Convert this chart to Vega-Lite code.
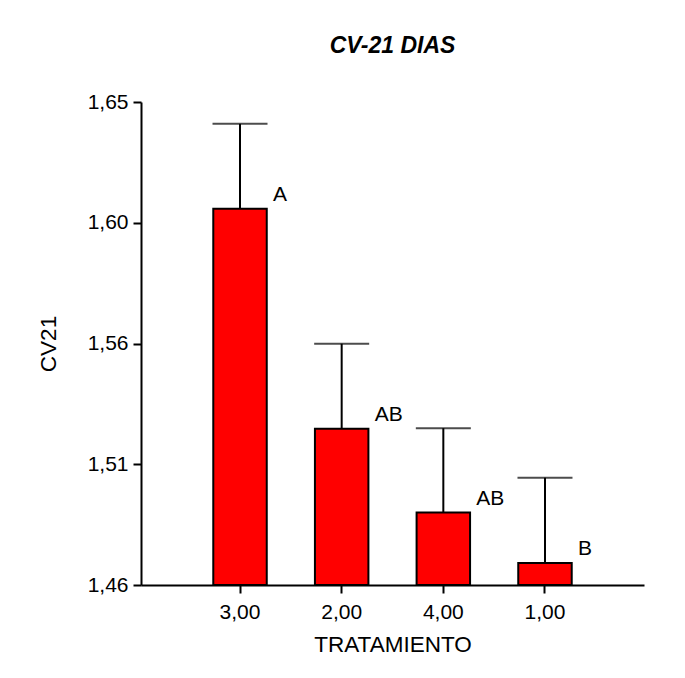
{
  "$schema": "https://vega.github.io/schema/vega-lite/v6.json",
  "autosize": "none",
  "width": 503,
  "height": 483,
  "padding": {"left": 141, "top": 102, "right": 41, "bottom": 93},
  "background": "white",
  "title": {"text": "CV-21 DIAS", "font": "Liberation Sans", "fontSize": 23, "fontWeight": "bold", "fontStyle": "italic", "color": "black", "offset": 33, "anchor": "middle"},
  "data": {"values": [
    {"TRATAMIENTO": "3,00", "CV21": 1.608, "upper": 1.6414, "letra": "A"},
    {"TRATAMIENTO": "2,00", "CV21": 1.5215, "upper": 1.5549, "letra": "AB"},
    {"TRATAMIENTO": "4,00", "CV21": 1.4885, "upper": 1.5217, "letra": "AB"},
    {"TRATAMIENTO": "1,00", "CV21": 1.4687, "upper": 1.5022, "letra": "B"}
  ]},
  "encoding": {
    "x": {
      "field": "TRATAMIENTO", "type": "nominal", "sort": null,
      "scale": {"paddingInner": 0.474, "paddingOuter": 0.711},
      "axis": {"title": "TRATAMIENTO", "labelAngle": 0, "labelPadding": 8, "titlePadding": 11}
    }
  },
  "layer": [
    {
      "mark": {"type": "bar", "fill": "#ff0000", "stroke": "black", "strokeWidth": 2},
      "encoding": {
        "y": {
          "field": "CV21", "type": "quantitative",
          "scale": {"domain": [1.46, 1.65], "zero": false, "nice": false},
          "axis": {"title": "CV21", "values": [1.46, 1.5075, 1.555, 1.6025, 1.65], "labelExpr": "replace(format(datum.value + 0.000001, '.2f'), '.', ',')", "labelPadding": 5, "titlePadding": 27}
        },
        "y2": {"datum": 1.46}
      }
    },
    {
      "mark": {"type": "rule", "color": "black", "strokeWidth": 2},
      "encoding": {"y": {"field": "CV21", "type": "quantitative"}, "y2": {"field": "upper"}}
    },
    {
      "mark": {"type": "tick", "color": "black", "thickness": 2, "size": 55},
      "encoding": {"y": {"field": "upper", "type": "quantitative"}}
    },
    {
      "mark": {"type": "text", "align": "left", "baseline": "alphabetic", "dx": 33, "dy": -8, "font": "Liberation Sans", "fontSize": 21, "color": "black"},
      "encoding": {"y": {"field": "CV21", "type": "quantitative"}, "text": {"field": "letra"}}
    }
  ],
  "config": {
    "view": {"stroke": null},
    "axis": {
      "domainColor": "black", "domainWidth": 2, "tickColor": "black", "tickWidth": 2, "tickSize": 8,
      "labelColor": "black", "labelFont": "Liberation Sans", "labelFontSize": 21,
      "titleFont": "Liberation Sans", "titleFontSize": 22.5, "titleFontWeight": "normal", "titleColor": "black",
      "grid": false
    }
  }
}
